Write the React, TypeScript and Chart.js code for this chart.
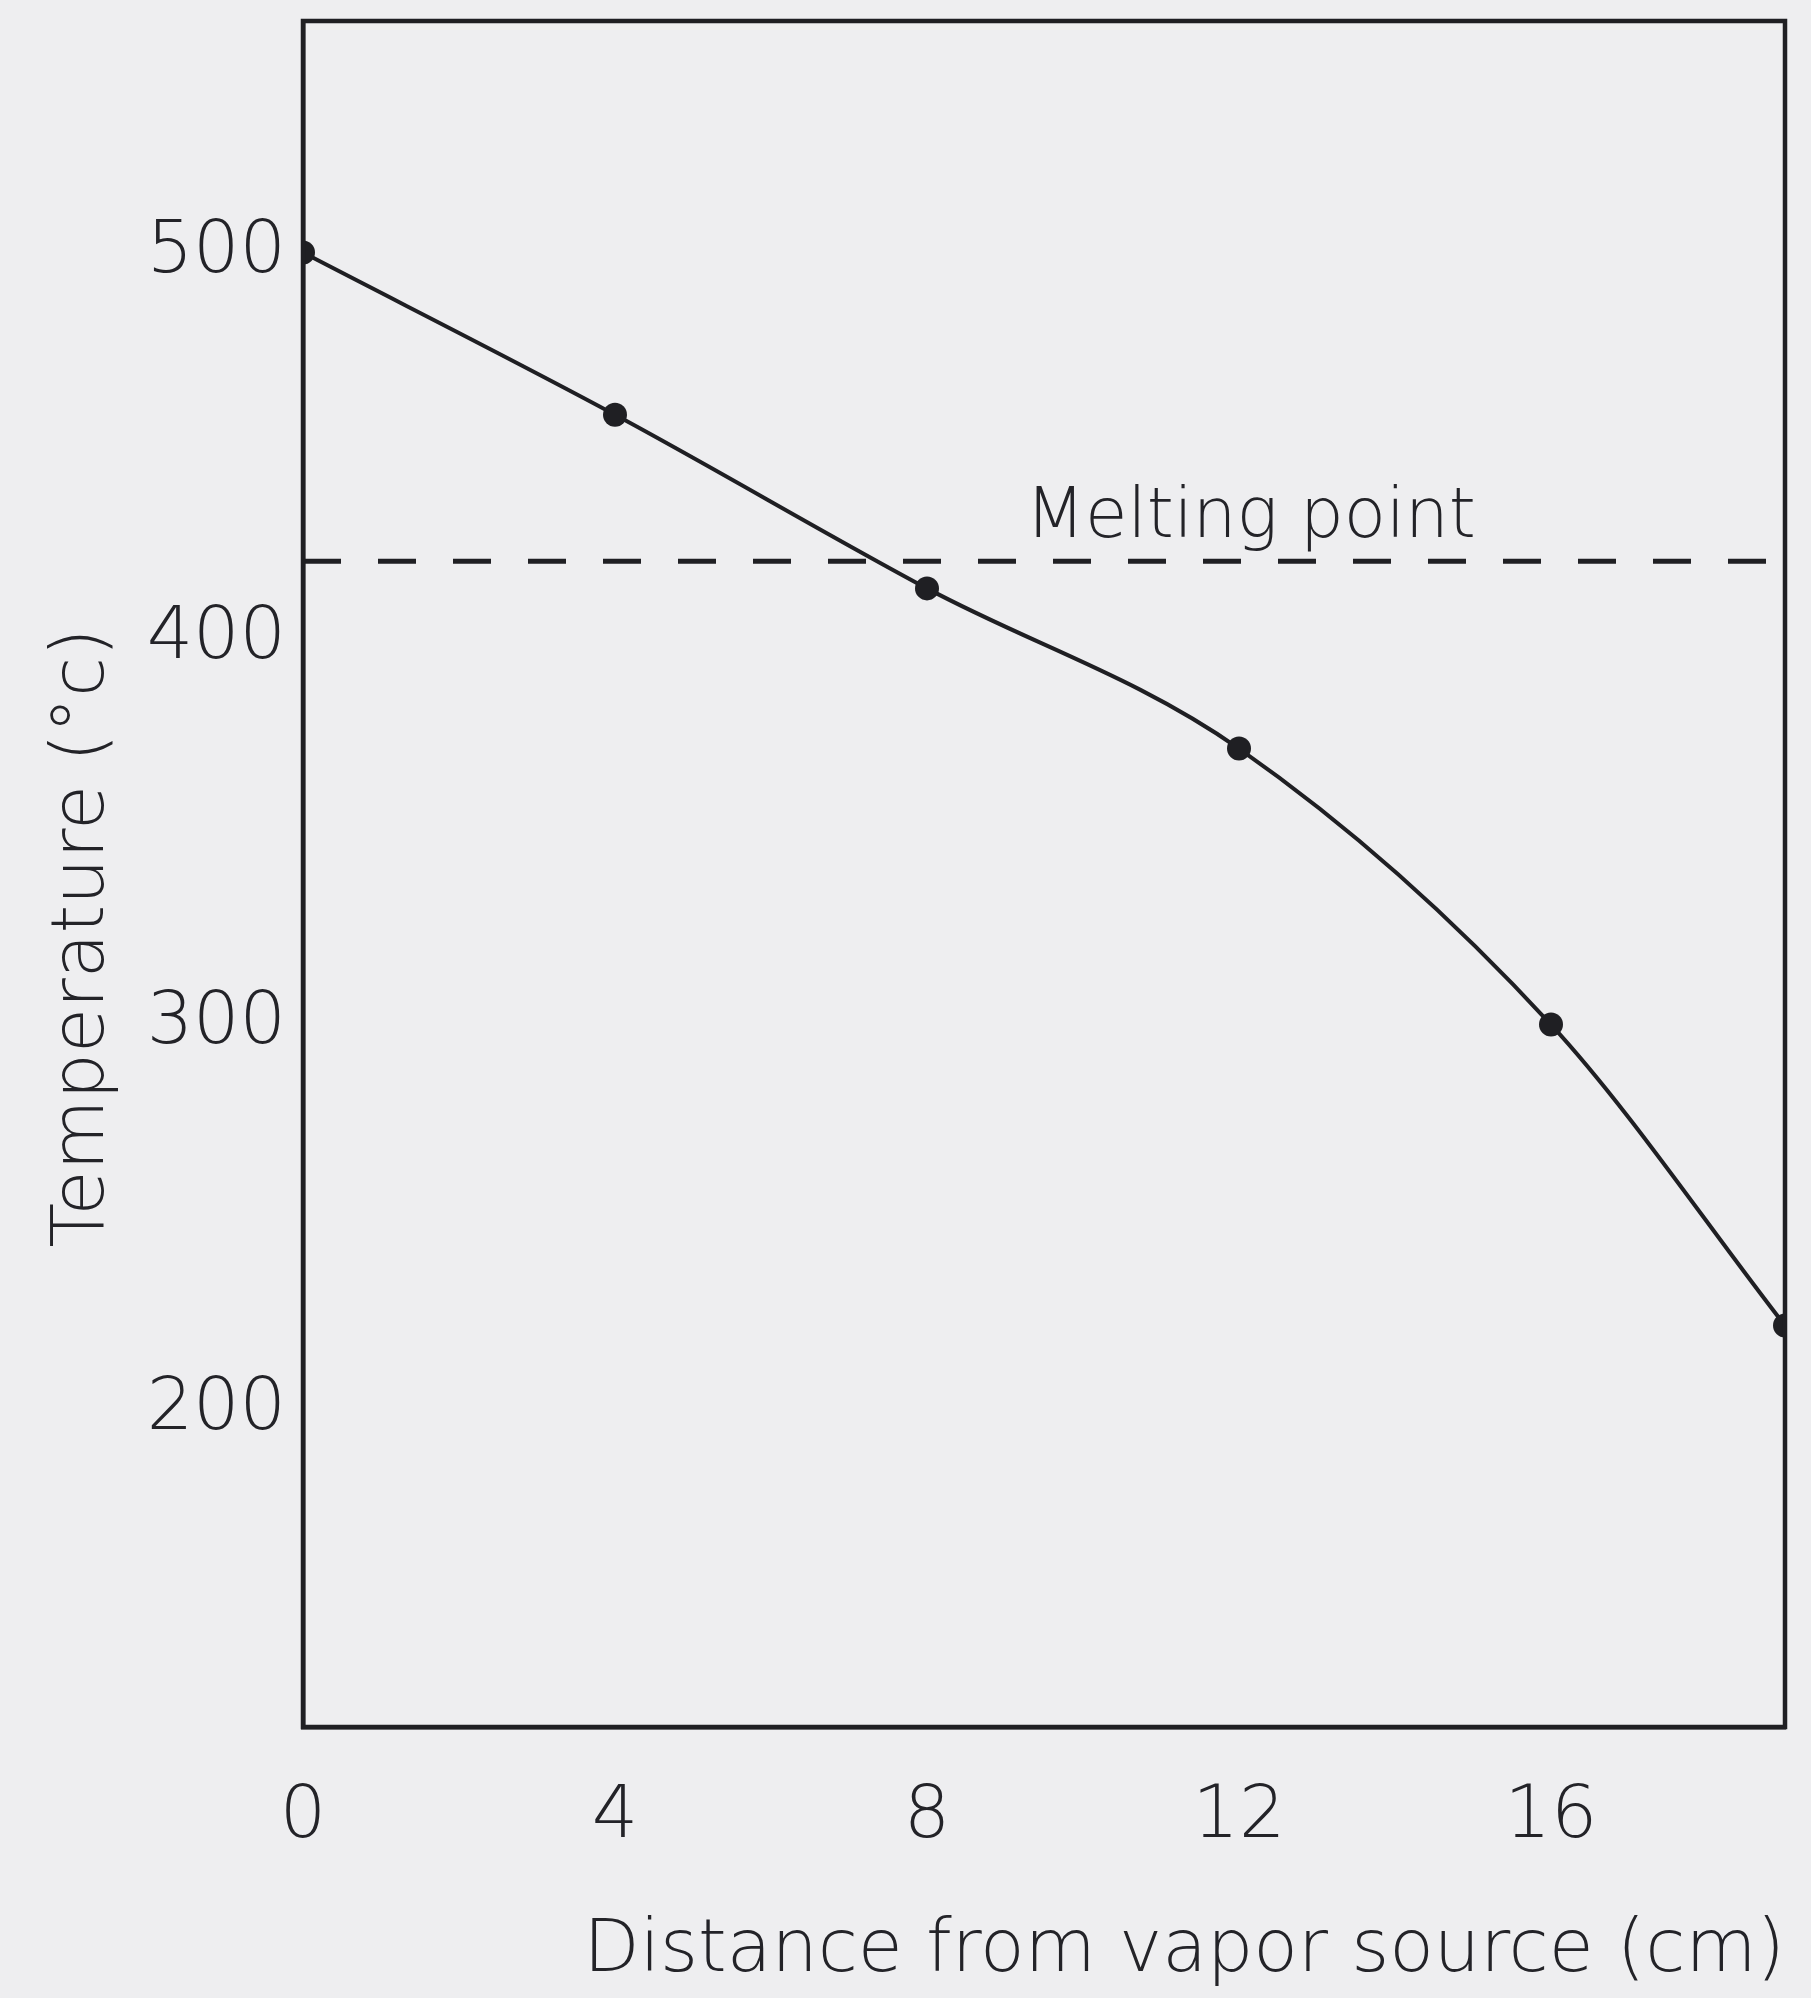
import React, { useEffect, useRef } from "react";
import { Chart, registerables } from "chart.js";

Chart.register(...registerables);

// ---- data ----
const distances = [0, 4, 8, 12, 16, 19];
const temperatures = [500, 458, 413, 371.5, 300, 222];
const meltingPoint = 420;
const meltingLabel = "Melting point";
const meltingLabelX = 12.15;
const xTicks = [0, 4, 8, 12, 16];
const yTicks = [200, 300, 400, 500];
const xMin = 0;
const xMax = 19;
const yMin = 118;
const yMax = 560;
const xTitle = "Distance from vapor source (cm)";
const yTitle = "Temperature (°c)";

// ---- style ----
const W = 1811;
const H = 1998;
const BG = "#eeeef0";
const INK = "#1f1f23";
const TEXT = "#232328";
const FAMILY = "'DejaVu Sans', sans-serif";
const WEIGHT = 200;
const FONT_SIZE = 73;
const LINE_W = 4;
const FRAME_W = 4.5;
const DASH_W = 5;

const framePlugin = {
  id: "frameAndLabels",
  afterDraw(chart: any) {
    const { ctx, chartArea, scales } = chart;
    ctx.save();
    // frame
    ctx.strokeStyle = INK;
    ctx.lineWidth = FRAME_W;
    ctx.strokeRect(
      chartArea.left,
      chartArea.top,
      chartArea.right - chartArea.left,
      chartArea.bottom - chartArea.top
    );
    // melting point label
    ctx.fillStyle = TEXT;
    ctx.font = `normal ${WEIGHT} ${FONT_SIZE - 4}px ${FAMILY}`;
    ctx.textAlign = "center";
    ctx.textBaseline = "alphabetic";
    ctx.fillText(
      meltingLabel,
      scales.x.getPixelForValue(meltingLabelX),
      scales.y.getPixelForValue(meltingPoint) - 24
    );
    // y axis title
    ctx.font = `normal ${WEIGHT} ${FONT_SIZE}px ${FAMILY}`;
    ctx.translate(84, (chartArea.top + chartArea.bottom) / 2 + 64);
    ctx.rotate(-Math.PI / 2);
    ctx.textAlign = "center";
    ctx.textBaseline = "middle";
    ctx.fillText(yTitle, 0, 0);
    ctx.restore();
  },
};

export default function App() {
  const ref = useRef<HTMLCanvasElement>(null);

  useEffect(() => {
    if (!ref.current) return;
    const font = { family: FAMILY, size: FONT_SIZE, weight: WEIGHT };
    const chart = new Chart(ref.current, {
      type: "line",
      data: {
        datasets: [
          {
            label: "Temperature",
            data: distances.map((x, i) => ({ x, y: temperatures[i] })),
            borderColor: INK,
            backgroundColor: INK,
            borderWidth: LINE_W,
            pointRadius: 12,
            pointBorderWidth: 0,
            pointBackgroundColor: INK,
            cubicInterpolationMode: "monotone",
            fill: false,
          },
          {
            label: "Melting point",
            data: [
              { x: xMin, y: meltingPoint },
              { x: xMax, y: meltingPoint },
            ],
            borderColor: INK,
            borderWidth: DASH_W,
            borderDash: [38, 37],
            pointRadius: 0,
            fill: false,
          },
        ],
      },
      options: {
        animation: false,
        responsive: false,
        maintainAspectRatio: false,
        layout: { padding: { top: 21, right: 26, left: 0, bottom: 0 } },
        plugins: {
          legend: { display: false },
          tooltip: { enabled: false },
        },
        scales: {
          x: {
            type: "linear",
            min: xMin,
            max: xMax,
            afterBuildTicks: (s: any) => {
              s.ticks = xTicks.map((v) => ({ value: v }));
            },
            afterFit: (s: any) => {
              s.height = H - 1727;
              s.paddingLeft = 0;
              s.paddingRight = 0;
            },
            grid: { display: false, drawTicks: false },
            border: { display: true, color: INK, width: FRAME_W },
            ticks: {
              font,
              color: TEXT,
              padding: 47,
              maxRotation: 0,
              autoSkip: false,
            },
            title: {
              display: true,
              text: xTitle,
              align: "end",
              font,
              color: TEXT,
              padding: { top: 0, bottom: 2 },
            },
          },
          y: {
            type: "linear",
            min: yMin,
            max: yMax,
            afterBuildTicks: (s: any) => {
              s.ticks = yTicks.map((v) => ({ value: v }));
            },
            afterFit: (s: any) => {
              s.width = 303;
              s.paddingTop = 0;
              s.paddingBottom = 0;
            },
            grid: { display: false, drawTicks: false },
            border: { display: true, color: INK, width: FRAME_W },
            ticks: {
              font,
              color: TEXT,
              padding: 17,
              autoSkip: false,
            },
          },
        },
      },
      plugins: [framePlugin],
    });
    return () => chart.destroy();
  }, []);

  return (
    <div
      style={{
        position: "absolute",
        left: 0,
        top: 0,
        width: W,
        height: H,
        background: BG,
      }}
    >
      <canvas ref={ref} width={W} height={H} style={{ width: W, height: H, display: "block" }} />
    </div>
  );
}
